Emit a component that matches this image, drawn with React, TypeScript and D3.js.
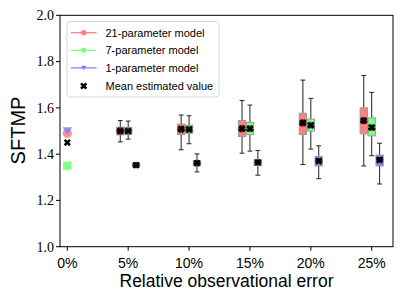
import React from 'react';
import * as d3 from 'd3';

const errorLabels = ['0%', '5%', '10%', '15%', '20%', '25%'];
const yTicks = [1.0, 1.2, 1.4, 1.6, 1.8, 2.0];

// values at 0% error (single estimate per model)
const zeroRed = 1.49;
const zeroGreen = 1.35;
const zeroBlue = 1.5;
const zeroMean = 1.45;

// box stats for 5%..25%: [low whisker, q1, median, q3, high whisker]
const redLow = [1.453, 1.419, 1.404, 1.355, 1.349];
const redQ1 = [1.483, 1.485, 1.476, 1.485, 1.488];
const redMed = [1.5, 1.505, 1.505, 1.53, 1.54];
const redQ3 = [1.517, 1.53, 1.545, 1.577, 1.6];
const redHigh = [1.545, 1.569, 1.632, 1.72, 1.74];
const redMean = [1.5, 1.508, 1.51, 1.535, 1.545];

const greenLow = [1.465, 1.445, 1.413, 1.422, 1.393];
const greenQ1 = [1.485, 1.49, 1.485, 1.5, 1.479];
const greenMed = [1.5, 1.505, 1.505, 1.52, 1.51];
const greenQ3 = [1.515, 1.525, 1.537, 1.551, 1.557];
const greenHigh = [1.543, 1.566, 1.612, 1.641, 1.667];
const greenMean = [1.5, 1.507, 1.51, 1.525, 1.515];

const blueLow = [1.342, 1.323, 1.309, 1.294, 1.271];
const blueQ1 = [1.345, 1.35, 1.35, 1.349, 1.349];
const blueMed = [1.352, 1.36, 1.364, 1.37, 1.375];
const blueQ3 = [1.36, 1.37, 1.375, 1.39, 1.396];
const blueHigh = [1.362, 1.401, 1.416, 1.436, 1.447];
const blueMean = [1.352, 1.361, 1.364, 1.37, 1.375];

const W = 403, H = 302;
const margin = { left: 60, right: 10, top: 15.3, bottom: 55.3 };
const SANS = '"Liberation Sans", Arial, sans-serif';
const SERIF = '"Liberation Serif", serif';

const models = [
  { name: '21-parameter model', light: '#ff8080', dark: '#8b0000', shape: d3.symbolCircle, offset: -0.13,
    low: redLow, q1: redQ1, med: redMed, q3: redQ3, high: redHigh, mean: redMean },
  { name: '7-parameter model', light: '#80ff80', dark: '#007a00', shape: d3.symbolSquare, offset: 0,
    low: greenLow, q1: greenQ1, med: greenMed, q3: greenQ3, high: greenHigh, mean: greenMean },
  { name: '1-parameter model', light: '#8080ff', dark: '#00008b', shape: 'tri', offset: 0.13,
    low: blueLow, q1: blueQ1, med: blueMed, q3: blueQ3, high: blueHigh, mean: blueMean },
];

function marker(shape: any, size: number) {
  if (shape === 'tri') {
    const s = size;
    return `M${-s},${-s * 0.8}L${s},${-s * 0.8}L0,${s * 0.9}Z`;
  }
  return d3.symbol().type(shape).size(size * size * 3.2)() as string;
}

const xMark = d3.symbol().type(d3.symbolCross).size(32)() as string;

function XMarker({ x, y }: { x: number; y: number }) {
  return <path d={xMark} transform={`translate(${x},${y}) rotate(45)`} fill="black" />;
}

export default function App() {
  const x = d3.scaleLinear().domain([-0.12, 5.35]).range([margin.left, W - margin.right]);
  const y = d3.scaleLinear().domain([1.0, 2.0]).range([H - margin.bottom, margin.top]);
  const bw = x(0.06) - x(0);
  const cap = x(0.04) - x(0);

  const zeroVals = [zeroRed, zeroGreen, zeroBlue];

  return (
    <svg width={W} height={H} style={{ position: 'absolute', left: 0, top: 0 }}>
      <rect x={0} y={0} width={W} height={H} fill="white" />
      {/* boxes */}
      {models.map((m, mi) =>
        m.med.map((_, i) => {
          const cx = x(i + 1 + m.offset);
          return (
            <g key={`${mi}-${i}`}>
              <line x1={cx} x2={cx} y1={y(m.low[i])} y2={y(m.q1[i])} stroke="#222" strokeWidth={1} />
              <line x1={cx} x2={cx} y1={y(m.q3[i])} y2={y(m.high[i])} stroke="#222" strokeWidth={1} />
              <line x1={cx - cap} x2={cx + cap} y1={y(m.low[i])} y2={y(m.low[i])} stroke="#222" strokeWidth={1} />
              <line x1={cx - cap} x2={cx + cap} y1={y(m.high[i])} y2={y(m.high[i])} stroke="#222" strokeWidth={1} />
              <rect x={cx - bw} width={bw * 2} y={y(m.q3[i])} height={y(m.q1[i]) - y(m.q3[i])}
                fill={m.light} stroke="#999" strokeWidth={1} />
              <path d={marker(m.shape, 3.6)} transform={`translate(${cx},${y(m.mean[i])})`} fill={m.dark} opacity={0.85} />
              <line x1={cx - bw} x2={cx + bw} y1={y(m.med[i])} y2={y(m.med[i])} stroke="black" strokeWidth={1.2} />
              <XMarker x={cx} y={y(m.mean[i])} />
            </g>
          );
        })
      )}
      {/* zero-error estimates */}
      {models.map((m, mi) => (
        <path key={`z${mi}`} d={marker(m.shape, mi === 2 ? 4.8 : 4.6)}
          transform={`translate(${x(0)},${y(zeroVals[mi])})`}
          fill={m.light} opacity={mi === 1 ? 1 : 0.85} />
      ))}
      <XMarker x={x(0)} y={y(zeroMean)} />

      {/* frame */}
      <rect x={margin.left} y={margin.top} width={W - margin.right - margin.left}
        height={y(1.0) - margin.top} fill="none" stroke="black" strokeWidth={1} />

      {/* y axis */}
      {yTicks.map(t => (
        <g key={t}>
          <line x1={margin.left - 4} x2={margin.left} y1={y(t)} y2={y(t)} stroke="black" />
          <text x={margin.left - 6} y={y(t)} dy="0.35em" textAnchor="end" fontFamily={SERIF} fontSize={14}>
            {t.toFixed(1)}
          </text>
        </g>
      ))}
      {/* x axis */}
      {errorLabels.map((l, i) => (
        <g key={l}>
          <line x1={x(i)} x2={x(i)} y1={y(1.0)} y2={y(1.0) + 4} stroke="black" />
          <text x={x(i)} y={y(1.0) + 21} textAnchor="middle" fontFamily={SANS} fontSize={14}>{l}</text>
        </g>
      ))}
      <text x={(margin.left + W - margin.right) / 2} y={287} textAnchor="middle" fontFamily={SANS} fontSize={17.5}>
        Relative observational error
      </text>
      <text transform={`translate(25,130.5) rotate(-90)`} textAnchor="middle" fontFamily={SANS} fontSize={20}>
        SFTMP
      </text>

      {/* legend */}
      <g>
        <rect x={67} y={21.5} width={152} height={75.5} rx={3} fill="white" fillOpacity={0.8} stroke="#d8d8d8" />
        {models.map((m, mi) => {
          const ly = 32.7 + mi * 17.6;
          return (
            <g key={m.name}>
              <line x1={71} x2={96.5} y1={ly} y2={ly} stroke={m.light} strokeWidth={1.3} />
              <path d={marker(m.shape, 2.6)} transform={`translate(83.7,${ly})`} fill={m.light} />
              <text x={105.5} y={ly} dy="0.35em" fontFamily={SANS} fontSize={11}>{m.name}</text>
            </g>
          );
        })}
        <XMarker x={83.7} y={86} />
        <text x={105.5} y={86} dy="0.35em" fontFamily={SANS} fontSize={11}>Mean estimated value</text>
      </g>
    </svg>
  );
}
